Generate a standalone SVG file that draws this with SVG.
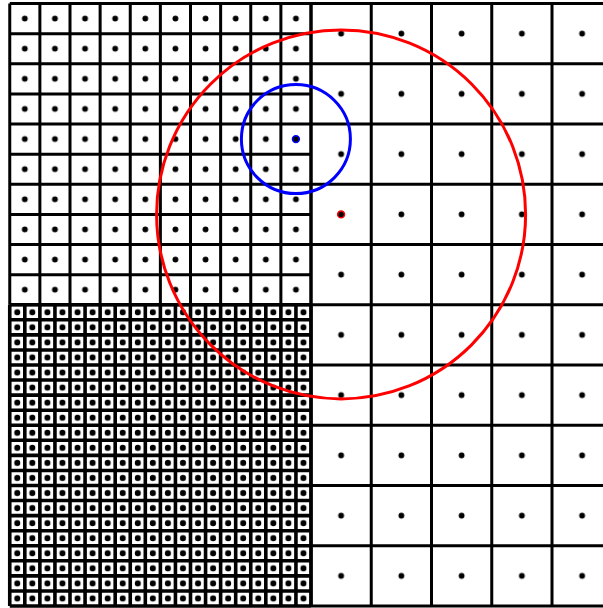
<svg xmlns="http://www.w3.org/2000/svg" width="603" height="608" viewBox="0 0 603 608">
<defs>
<style>
.grid{fill:none;stroke:#000;stroke-width:3}
.tgrid{fill:none;stroke:#000;stroke-width:3.6}
.ring{fill:none;stroke-width:3}
</style>
<pattern id="pBig" patternUnits="userSpaceOnUse" x="311" y="3.5" width="60.25" height="60.25"><circle cx="30.125" cy="30.125" r="2.9" fill="#000"/></pattern>
<pattern id="pSmall" patternUnits="userSpaceOnUse" x="9.75" y="3.5" width="30.125" height="30.125"><circle cx="15.0625" cy="15.0625" r="2.9" fill="#000"/></pattern>
<pattern id="pTiny" patternUnits="userSpaceOnUse" x="9.75" y="304.75" width="15.0625" height="15.0625"><circle cx="7.53125" cy="7.53125" r="3" fill="#000"/></pattern>
</defs>
<rect x="0" y="0" width="603" height="608" fill="#fff"/>
<g id="dots">
<rect x="311" y="3.5" width="292" height="602.5" fill="url(#pBig)"/>
<rect x="9.75" y="3.5" width="301.25" height="301.25" fill="url(#pSmall)"/>
<rect x="9.75" y="304.75" width="301.25" height="301.25" fill="url(#pTiny)"/>
</g>
<g id="grid-tiny">
<path class="tgrid" d="M9.75 304.75V606M24.8125 304.75V606M39.875 304.75V606M54.9375 304.75V606M70 304.75V606M85.0625 304.75V606M100.125 304.75V606M115.1875 304.75V606M130.25 304.75V606M145.3125 304.75V606M160.375 304.75V606M175.4375 304.75V606M190.5 304.75V606M205.5625 304.75V606M220.625 304.75V606M235.6875 304.75V606M250.75 304.75V606M265.8125 304.75V606M280.875 304.75V606M295.9375 304.75V606M311 304.75V606
M9.75 304.75H311M9.75 319.8125H311M9.75 334.875H311M9.75 349.9375H311M9.75 365H311M9.75 380.0625H311M9.75 395.125H311M9.75 410.1875H311M9.75 425.25H311M9.75 440.3125H311M9.75 455.375H311M9.75 470.4375H311M9.75 485.5H311M9.75 500.5625H311M9.75 515.625H311M9.75 530.6875H311M9.75 545.75H311M9.75 560.8125H311M9.75 575.875H311M9.75 590.9375H311M9.75 606H311"/>
</g>
<g id="grid-small">
<path class="grid" d="M9.75 3.5V304.75M39.875 3.5V304.75M70 3.5V304.75M100.125 3.5V304.75M130.25 3.5V304.75M160.375 3.5V304.75M190.5 3.5V304.75M220.625 3.5V304.75M250.75 3.5V304.75M280.875 3.5V304.75M311 3.5V304.75
M9.75 3.5H311M9.75 33.625H311M9.75 63.75H311M9.75 93.875H311M9.75 124H311M9.75 154.125H311M9.75 184.25H311M9.75 214.375H311M9.75 244.5H311M9.75 274.625H311M9.75 304.75H311"/>
</g>
<g id="grid-big">
<path class="grid" d="M311 3.5V606M371.25 3.5V606M431.5 3.5V606M491.75 3.5V606M552 3.5V606
M311 3.5H603M311 63.75H603M311 124H603M311 184.25H603M311 244.5H603M311 304.75H603M311 365H603M311 425.25H603M311 485.5H603M311 545.75H603M311 606H603"/>
</g>
<g id="red-circle">
<circle class="ring" cx="341.1" cy="214.4" r="184.5" stroke="#f00"/>
<circle cx="341.1" cy="214.4" r="3.4" fill="#000" stroke="#f00" stroke-width="1.6"/>
</g>
<g id="blue-circle">
<circle class="ring" cx="295.9" cy="139.1" r="54.5" stroke="#00f"/>
<circle cx="295.9" cy="139.1" r="3.4" fill="#000" stroke="#00f" stroke-width="1.6"/>
</g>
</svg>
